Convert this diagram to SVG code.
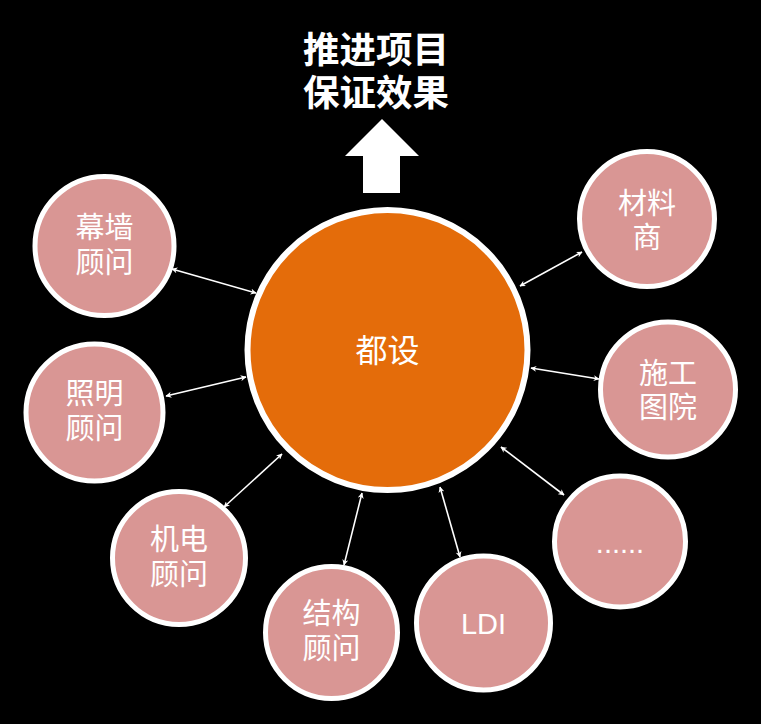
<svg xmlns="http://www.w3.org/2000/svg" width="761" height="724" viewBox="0 0 761 724">
<style>
.node{fill:#D99694;stroke:#FFFFFF;stroke-width:5}
.hub{fill:#E46C0A;stroke:#FFFFFF;stroke-width:6}
.t{fill:#FFFFFF;font-family:"Noto Sans CJK SC","Noto Sans",sans-serif;font-size:29px;text-anchor:middle}
.title{fill:#FFFFFF;font-family:"Noto Sans CJK SC","Noto Sans",sans-serif;font-size:36.5px;font-weight:bold;text-anchor:middle}
.c{stroke:#FFFFFF;stroke-width:1.6;fill:none;marker-start:url(#ah);marker-end:url(#ah)}
</style>
<defs>
<marker id="ah" viewBox="0 0 10 10" refX="9" refY="5" markerWidth="6" markerHeight="6" orient="auto-start-reverse" markerUnits="userSpaceOnUse">
<path d="M0,0 L10,5 L0,10 L3,5 Z" fill="#FFFFFF"/>
</marker>
</defs>
<rect x="0" y="0" width="761" height="724" fill="#000000"/>
<g id="title">
<text class="title" x="376" y="63">推进项目</text>
<text class="title" x="376" y="106">保证效果</text>
<path d="M382,119 L419,156 L400,156 L400,193 L363,193 L363,156 L345,156 Z" fill="#FFFFFF"/>
</g>
<g id="connectors">
<line class="c" x1="172" y1="269" x2="256" y2="293"/>
<line class="c" x1="166" y1="396" x2="246" y2="377"/>
<line class="c" x1="224" y1="507" x2="282" y2="454"/>
<line class="c" x1="344" y1="565" x2="362" y2="493"/>
<line class="c" x1="460" y1="557" x2="440" y2="487"/>
<line class="c" x1="564" y1="495" x2="501" y2="447"/>
<line class="c" x1="599" y1="379" x2="531" y2="368"/>
<line class="c" x1="582" y1="252" x2="520" y2="286"/>
</g>
<g id="hub">
<circle class="hub" cx="387.5" cy="350" r="140"/>
<text class="t" x="387.5" y="362" style="font-size:32px">都设</text>
</g>
<g id="n-mq">
<circle class="node" cx="104.5" cy="246" r="69.5"/>
<text class="t" x="104.5" y="238">幕墙</text>
<text class="t" x="104.5" y="273">顾问</text>
</g>
<g id="n-zm">
<circle class="node" cx="94.5" cy="412.5" r="68.5"/>
<text class="t" x="94.5" y="404">照明</text>
<text class="t" x="94.5" y="439">顾问</text>
</g>
<g id="n-jd">
<circle class="node" cx="179" cy="558" r="66.5"/>
<text class="t" x="179" y="550">机电</text>
<text class="t" x="179" y="585">顾问</text>
</g>
<g id="n-jg">
<circle class="node" cx="331.5" cy="632.5" r="66"/>
<text class="t" x="331.5" y="624">结构</text>
<text class="t" x="331.5" y="659">顾问</text>
</g>
<g id="n-ldi">
<circle class="node" cx="483.5" cy="623" r="67"/>
<text class="t" x="483.5" y="634" style="font-family:'Liberation Sans','Noto Sans',sans-serif">LDI</text>
</g>
<g id="n-more">
<circle class="node" cx="620" cy="541.5" r="65.5"/>
<text class="t" x="620" y="553" style="font-family:'Liberation Sans','Noto Sans',sans-serif">......</text>
</g>
<g id="n-sgt">
<circle class="node" cx="668" cy="389.5" r="67.5"/>
<text class="t" x="668" y="384">施工</text>
<text class="t" x="668" y="418">图院</text>
</g>
<g id="n-cls">
<circle class="node" cx="647" cy="219" r="67.5"/>
<text class="t" x="647" y="214">材料</text>
<text class="t" x="647" y="248">商</text>
</g>
</svg>
